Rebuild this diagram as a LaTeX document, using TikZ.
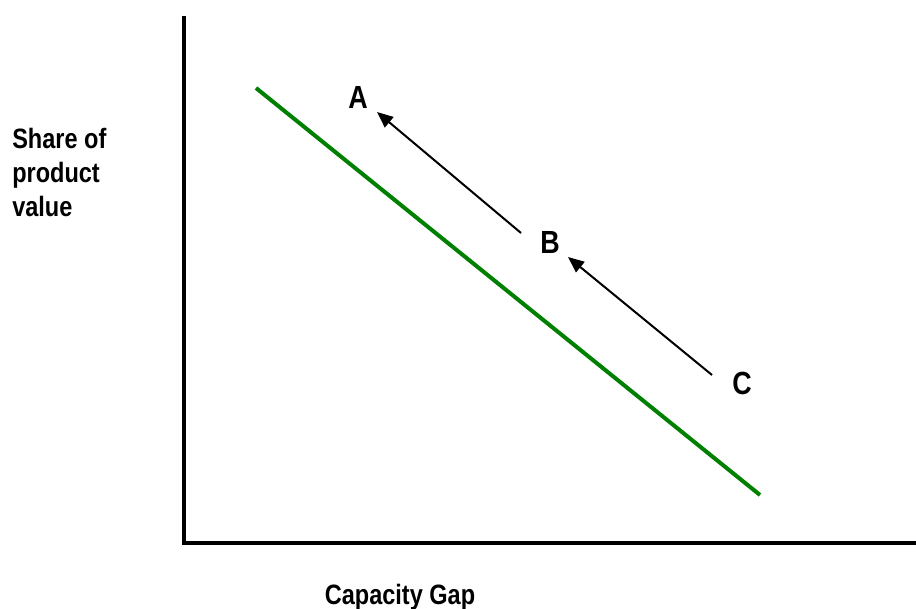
\documentclass[tikz,border=0pt]{standalone}
\usepackage{fontspec}
\setmainfont[FakeStretch=0.84]{Liberation Sans}
\usepackage{tikz}
\usetikzlibrary{arrows.meta, positioning}
\definecolor{gapGreen}{HTML}{008000}
\tikzset{
  % pixel-like units, y grows downwards
  every picture/.append style = {x=0.75pt, y=-0.75pt},
  axisline/.style  = {line width=3pt, black, line join=miter},
  gapline/.style   = {gapGreen, line width=3pt},
  movearrow/.style = {-{Triangle[length=12pt, width=10pt]}, line width=1.5pt},
  lbl/.style       = {font=\bfseries\fontsize{21}{25.5}\selectfont, inner sep=0pt},
  pointlbl/.style  = {font=\bfseries\fontsize{24}{28}\selectfont, inner sep=0pt},
}

\begin{document}
\begin{tikzpicture}
  \useasboundingbox (0,0) rectangle (916,609);
  % axes
  \coordinate (ytop) at (184,16);
  \coordinate (origin) at (184,543);
  \coordinate (xend) at (916,543);
  \draw[axisline] (ytop) -- (origin) -- (xend);
  % axis titles
  \node[lbl, anchor=north west, align=left] (ytitle) at (12,128)
    {Share of\\product\\value};
  \node[lbl, anchor=base] (xtitle) at (400,604) {Capacity Gap};
  % capacity gap line
  \coordinate (gapstart) at (256,88);
  \coordinate (gapend) at (760,495);
  \draw[gapline] (gapstart) -- (gapend);
  % positions and moves
  \node[pointlbl] (A) at (358,97) {A};
  \node[pointlbl] (B) at (550,242) {B};
  \node[pointlbl] (C) at (742,383) {C};
  \draw[movearrow] ([shift={(-30,-8)}]C.center) -- ([shift={(18,15)}]B.center);
  \draw[movearrow] ([shift={(-29,-9)}]B.center) -- ([shift={(19,15)}]A.center);
\end{tikzpicture}
\end{document}
